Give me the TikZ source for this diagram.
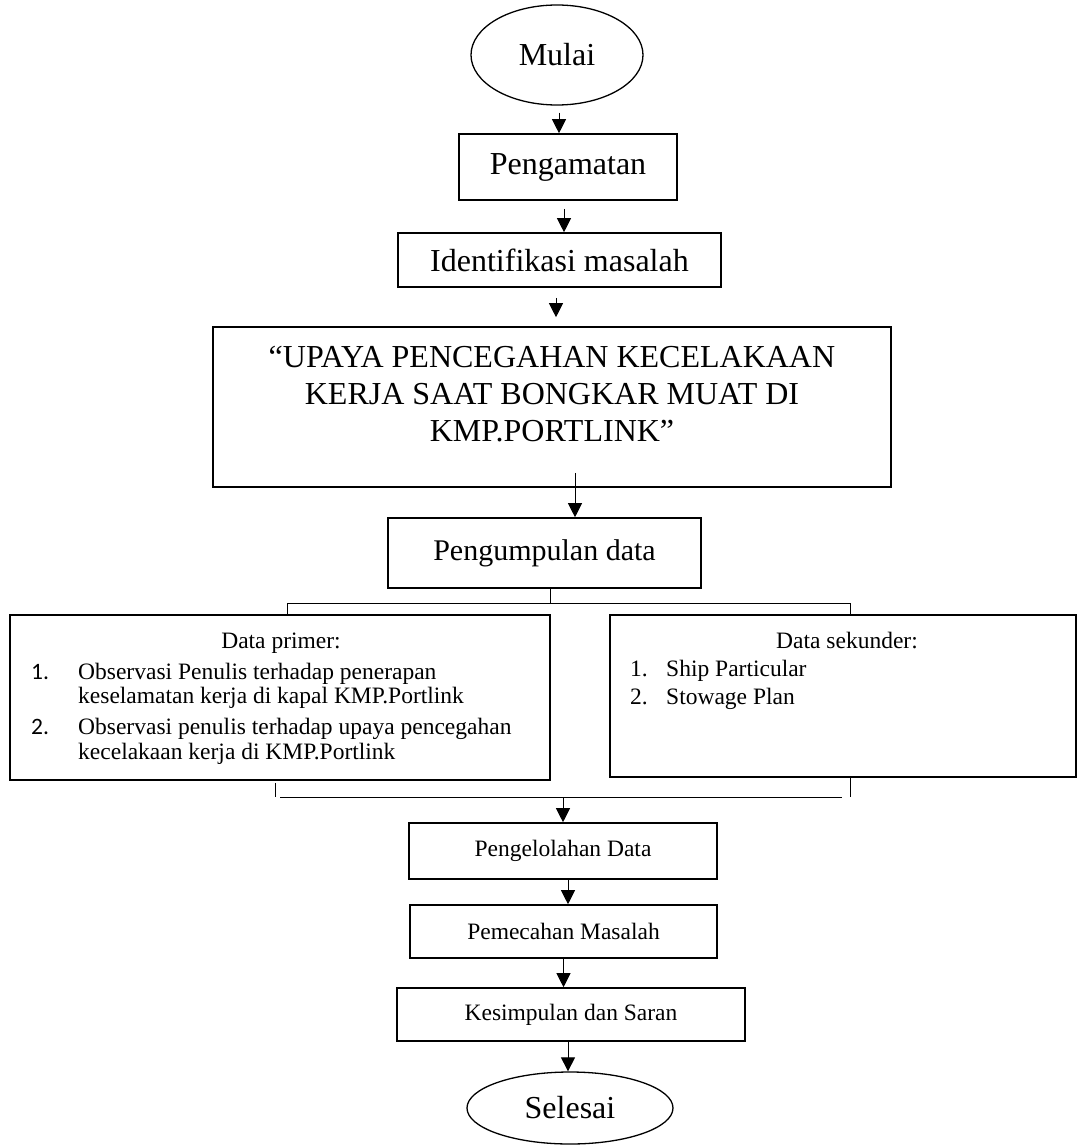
\documentclass[tikz,border=0pt]{standalone}
\usepackage{fontspec}
\setmainfont{Liberation Serif}
\newfontfamily\numfont{Carlito}
\usetikzlibrary{arrows.meta,shapes.geometric}
\begin{document}
\begin{tikzpicture}[x=1pt,y=-1pt,
  box/.style={draw, line width=1.6pt, inner sep=0pt, align=center},
  oval/.style={draw, ellipse, line width=1.3pt, inner sep=0pt},
  conn/.style={line width=1pt},
  arr/.style={conn, -{Triangle[length=14pt,width=14pt]}},
  big/.style={font=\fontsize{32}{36.8}\selectfont},
  mid/.style={font=\fontsize{23.5}{27}\selectfont},
  txt/.style={font=\fontsize{23.5}{27}\selectfont, anchor=base west, inner sep=0pt},
  num/.style={font=\numfont\fontsize{23.5}{27}\selectfont, anchor=base west, inner sep=0pt},
]
\useasboundingbox[fill=white] (0,0) rectangle (1077,1145);

% main column
\node[oval, big, minimum width=172pt, minimum height=100pt] (mulai) at (557,55) {Mulai};
\node[box, big, minimum width=218pt, minimum height=66pt] (peng) at (568,167) {Pengamatan};
\node[box, big, minimum width=323pt, minimum height=54pt] (ident) at (559.5,260) {Identifikasi masalah};
\node[box, big, minimum width=678pt, minimum height=160pt] (title) at (552,407)
  {“UPAYA PENCEGAHAN KECELAKAAN\\KERJA SAAT BONGKAR MUAT DI\\KMP.PORTLINK”\\[-10pt]\mbox{}};
\node[box, font=\fontsize{30}{34}\selectfont, minimum width=313pt, minimum height=70pt] (pgum) at (544.5,553) {Pengumpulan data};

% data boxes
\node[box, minimum width=540pt, minimum height=165pt] (prim) at (280,697.5) {};
\node[box, minimum width=466pt, minimum height=162pt] (sek) at (843,696) {};

\node[mid, anchor=base, inner sep=0pt] (dptitle) at (281,648) {Data primer:};
\node[num] (n1) at (31,679) {1.};
\node[txt] (l1) at (78,679) {Observasi Penulis terhadap penerapan};
\node[txt] (l2) at (78,703) {keselamatan kerja di kapal KMP.Portlink};
\node[num] (n2) at (31,734) {2.};
\node[txt] (l3) at (78,734) {Observasi penulis terhadap upaya pencegahan};
\node[txt] (l4) at (78,759) {kecelakaan kerja di KMP.Portlink};

\node[mid, anchor=base, inner sep=0pt] (dstitle) at (847,648) {Data sekunder:};
\node[txt] (s1n) at (630,676) {1.};
\node[txt] (s1) at (666,676) {Ship Particular};
\node[txt] (s2n) at (630,704) {2.};
\node[txt] (s2) at (666,704) {Stowage Plan};

% lower column
\node[box, mid, minimum width=308pt, minimum height=56pt] (pengel) at (563,851) {Pengelolahan Data};
\node[box, mid, minimum width=307pt, minimum height=53pt] (pemec) at (563.5,931.5) {Pemecahan Masalah};
\node[box, mid, minimum width=348pt, minimum height=53pt] (kesim) at (571,1014.5) {Kesimpulan dan Saran};
\node[oval, big, minimum width=206pt, minimum height=72pt] (selesai) at (570,1108) {Selesai};

% helper coordinates
\coordinate (bl) at (287,603);
\coordinate (br) at (850,603);
\coordinate (ml) at (275,797);
\coordinate (mla) at (280,797);
\coordinate (mra) at (842,797);
\coordinate (mr) at (850,797);
\coordinate (mm) at (563,797);

% connectors
\draw[arr] ([xshift=2pt,yshift=-7pt]mulai.south) -- ([xshift=2pt]mulai.south |- peng.north);
\draw[arr] ([xshift=-4pt,yshift=-8pt]peng.south) -- ([xshift=-4pt]peng.south |- ident.north);
\draw[arr] ([xshift=-3.5pt,yshift=-10pt]ident.south) -- ([xshift=-3.5pt,yshift=9pt]ident.south |- title.north);
\draw[arr] ([xshift=23pt,yshift=15pt]title.south) -- ([xshift=23pt]title.south |- pgum.north);

\draw[conn] ([xshift=5.5pt]pgum.south) -- ([xshift=5.5pt]pgum.south |- bl);
\draw[conn] (bl |- prim.north) -- (bl) -- (br) -- (br |- sek.north);

\draw[conn] ([yshift=-2pt]ml |- prim.south) -- (ml);
\draw[conn] (mla) -- (mra);
\draw[conn] (mr |- sek.south) -- (mr);
\draw[arr] (mm) -- (mm |- pengel.north);

\draw[arr] ([xshift=5pt]pengel.south) -- ([xshift=5pt]pengel.south |- pemec.north);
\draw[arr] (pemec.south) -- (pemec.south |- kesim.north);
\draw[arr] ([xshift=-3pt]kesim.south) -- ([xshift=-3pt]kesim.south |- selesai.north);
\end{tikzpicture}
\end{document}
